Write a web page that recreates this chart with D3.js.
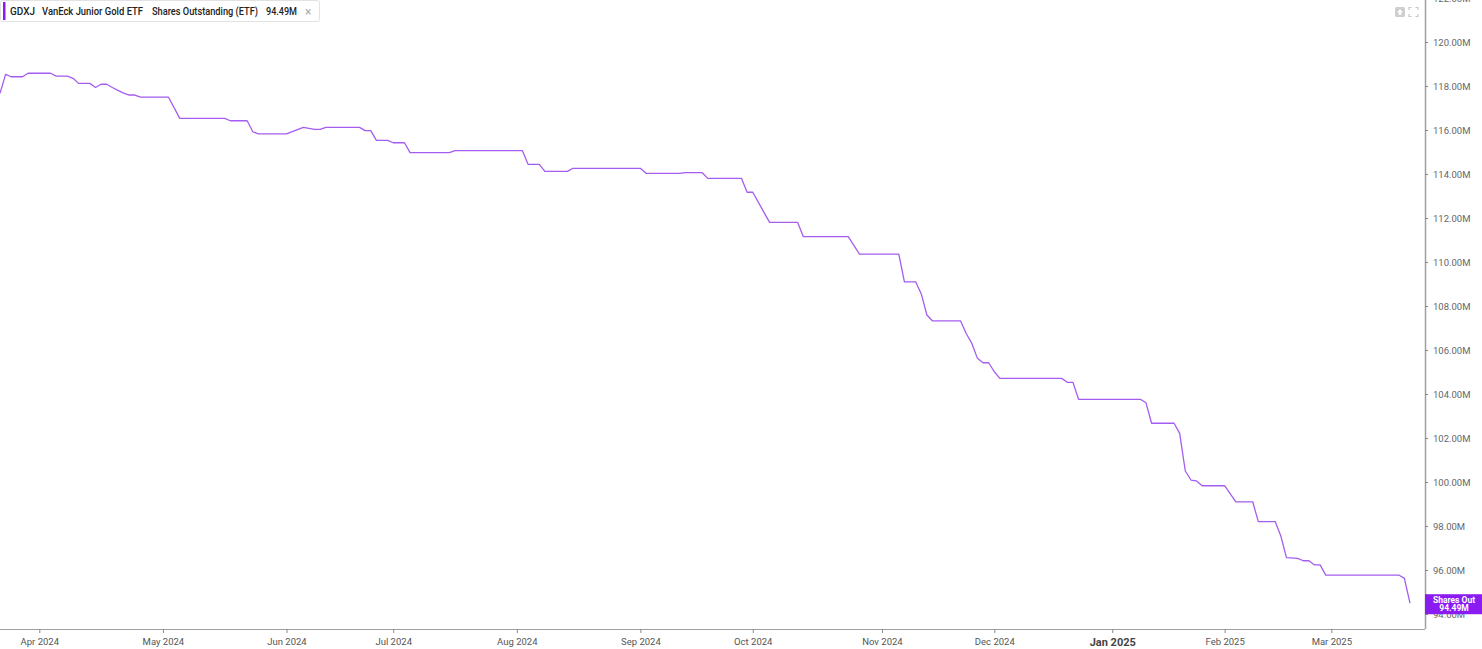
<!DOCTYPE html>
<html><head><meta charset="utf-8">
<script src="https://cdn.jsdelivr.net/npm/d3@7"></script>
<style>html,body{margin:0;padding:0;background:#fff;overflow:hidden}</style>
</head><body><svg id="c" width="1482" height="649"></svg>
<script>
// ---- data ----
const holidays = ["2024-03-29","2024-05-27","2024-06-19","2024-07-04","2024-09-02","2024-11-28","2024-12-25","2025-01-01","2025-01-09","2025-01-20","2025-02-17"];
const firstDay = "2024-03-20", lastDay = "2025-03-21";
const dates = ["2024-03-20","2024-03-21","2024-03-22","2024-03-26","2024-03-27","2024-04-03","2024-04-04","2024-04-08","2024-04-09","2024-04-10","2024-04-12","2024-04-15","2024-04-16","2024-04-17","2024-04-18","2024-04-19","2024-04-22","2024-04-23","2024-04-24","2024-04-25","2024-05-02","2024-05-06","2024-05-16","2024-05-17","2024-05-22","2024-05-23","2024-05-24","2024-06-03","2024-06-06","2024-06-10","2024-06-11","2024-06-12","2024-06-21","2024-06-24","2024-06-25","2024-06-26","2024-06-28","2024-07-01","2024-07-03","2024-07-05","2024-07-16","2024-07-17","2024-08-02","2024-08-05","2024-08-07","2024-08-08","2024-08-14","2024-08-15","2024-09-03","2024-09-04","2024-09-12","2024-09-13","2024-09-18","2024-09-19","2024-09-27","2024-09-30","2024-10-01","2024-10-04","2024-10-11","2024-10-14","2024-10-24","2024-10-28","2024-11-06","2024-11-07","2024-11-11","2024-11-12","2024-11-13","2024-11-14","2024-11-21","2024-11-22","2024-11-25","2024-11-26","2024-11-27","2024-11-29","2024-12-02","2024-12-03","2024-12-18","2024-12-19","2024-12-20","2024-12-23","2025-01-10","2025-01-13","2025-01-14","2025-01-21","2025-01-22","2025-01-23","2025-01-24","2025-01-27","2025-01-28","2025-02-03","2025-02-05","2025-02-10","2025-02-11","2025-02-14","2025-02-18","2025-02-19","2025-02-21","2025-02-24","2025-02-25","2025-02-26","2025-02-27","2025-02-28","2025-03-19","2025-03-20","2025-03-21"];
const values = [117.67,118.53,118.42,118.42,118.58,118.58,118.45,118.45,118.35,118.12,118.12,117.93,118.08,118.08,117.93,117.80,117.68,117.59,117.59,117.49,117.49,116.53,116.53,116.42,116.42,115.92,115.82,115.82,116.12,116.03,116.03,116.12,116.12,115.97,115.97,115.53,115.53,115.42,115.42,114.97,114.97,115.06,115.06,114.44,114.44,114.12,114.12,114.26,114.26,114.03,114.03,114.06,114.06,113.80,113.80,113.17,113.17,111.80,111.80,111.15,111.15,110.36,110.36,109.10,109.10,108.55,107.59,107.32,107.32,106.75,106.30,105.62,105.42,105.42,105.01,104.71,104.71,104.53,104.53,103.76,103.76,103.60,102.67,102.67,102.21,100.50,100.09,100.05,99.83,99.83,99.10,99.10,98.20,98.20,97.55,96.56,96.53,96.42,96.42,96.23,96.23,95.77,95.77,95.62,94.49];
const yTicks = [94,96,98,100,102,104,106,108,110,112,114,116,118,120,122];
const monthTicks = ["2024-04","2024-05","2024-06","2024-07","2024-08","2024-09","2024-10","2024-11","2024-12","2025-01","2025-02","2025-03"];
const monthLabels = ["Apr 2024","May 2024","Jun 2024","Jul 2024","Aug 2024","Sep 2024","Oct 2024","Nov 2024","Dec 2024","Jan 2025","Feb 2025","Mar 2025"];
const legendParts = ["GDXJ","VanEck Junior Gold ETF","Shares Outstanding (ETF)","94.49M"];
const lastLabel = ["Shares Out","94.49M"];

// ---- trading calendar ----
const fmt = d3.utcFormat("%Y-%m-%d");
const hol = new Set(holidays);
const tradingDays = d3.utcDays(new Date(firstDay+"T00:00:00Z"), d3.utcDay.offset(new Date(lastDay+"T00:00:00Z"),1))
  .map(fmt).filter(s => { const wd = new Date(s+"T00:00:00Z").getUTCDay(); return wd!==0 && wd!==6 && !hol.has(s); });

const svg = d3.select("#c");
const axisX = 1425, axisY = 629;
const x = d3.scalePoint().domain(tradingDays).range([0, 1410]);
const y = d3.scaleLinear().domain([94,120]).range([614, 42]);

const axisFont = "Roboto, 'Liberation Sans', Arial, sans-serif";

// y axis
const yAxis = svg.append("g").attr("transform",`translate(${axisX},0)`)
  .call(d3.axisRight(y).tickValues(yTicks).tickSize(3).tickPadding(5).tickFormat(d => d3.format(".2f")(d)+"M"));
yAxis.select(".domain").attr("stroke","#a0a0a0").attr("stroke-width",1.5).attr("d",`M0.5,0V${axisY}`);
yAxis.selectAll(".tick line").attr("stroke","#888");
yAxis.selectAll(".tick text").attr("fill","#666").attr("font-size",9.5).attr("font-family",axisFont);

// x axis
const tickDates = monthTicks.map(m => tradingDays.find(d => d.startsWith(m)));
const xAxis = svg.append("g").attr("transform",`translate(0,${axisY})`)
  .call(d3.axisBottom(x).tickValues(tickDates).tickSize(4).tickPadding(5).tickFormat((d,i)=>monthLabels[i]));
xAxis.select(".domain").attr("stroke","#a0a0a0").attr("stroke-width",1.2).attr("d",`M0,0.5H${axisX}`);
xAxis.selectAll(".tick line").attr("stroke","#888");
xAxis.selectAll(".tick text").attr("fill","#555").attr("font-size",9.5).attr("font-family",axisFont)
  .each(function(d,i){ if(monthLabels[i].startsWith("Jan")) d3.select(this).attr("font-weight","bold").attr("font-size",11).attr("fill","#444"); });

// line
const pts = dates.map((d,i)=>({d, v: values[i]}));
svg.append("path").datum(pts)
  .attr("fill","none").attr("stroke","#a45df0").attr("stroke-width",1.3).attr("stroke-linejoin","round")
  .attr("d", d3.line().x(p=>x(p.d)).y(p=>y(p.v)));

// last value label
const lv = values[values.length-1];
const lg = svg.append("g");
lg.append("rect").attr("x",axisX).attr("y",y(lv)-9).attr("width",57).attr("height",20).attr("fill","#8a1cf2");
lg.append("text").attr("x",axisX+29).attr("y",y(lv)-0.5).attr("text-anchor","middle").attr("fill","#fff")
  .attr("font-size",8.5).attr("font-weight","bold").attr("font-family",axisFont).text(lastLabel[0]);
lg.append("text").attr("x",axisX+29).attr("y",y(lv)+8).attr("text-anchor","middle").attr("fill","#fff")
  .attr("font-size",8.5).attr("font-weight","bold").attr("font-family",axisFont).text(lastLabel[1]);

// legend
const leg = svg.append("g");
leg.append("rect").attr("x",0.5).attr("y",0.5).attr("width",319).attr("height",21).attr("rx",2).attr("fill","#fff").attr("stroke","#e2e2e2");
leg.append("rect").attr("x",3).attr("y",2).attr("width",2.5).attr("height",18).attr("fill","#8a1cf2");
const legFont = "Roboto, 'Liberation Sans', sans-serif";
const legX = [10,42,152,266];
const legW = [25,101,106,31];
legendParts.forEach((t,i)=>{
  const el = leg.append("text").attr("x",legX[i]).attr("y",15).attr("font-size",10).attr("font-family",legFont)
    .attr("font-weight",500).attr("fill","#222").text(t);
  if (el.node().getComputedTextLength() > legW[i]) el.attr("textLength",legW[i]).attr("lengthAdjust","spacingAndGlyphs");
});
leg.append("text").attr("x",305).attr("y",15.5).attr("font-size",12).attr("font-family",legFont).attr("fill","#aaa").text("×");

// icons top right
const ic = svg.append("g");
ic.append("rect").attr("x",1395).attr("y",7).attr("width",10).attr("height",10).attr("rx",1.5).attr("fill","#cfcfcf");
ic.append("path").attr("d","M1400,9 L1403,12.5 H1401.2 V15 H1398.8 V12.5 H1397 Z").attr("fill","#fff");
ic.append("path").attr("d","M1409,10 V7.5 H1411.5 M1415.5,7.5 H1418 V10 M1418,14 V16.5 H1415.5 M1411.5,16.5 H1409 V14")
  .attr("fill","none").attr("stroke","#c8c8c8").attr("stroke-width",1.2);
</script></body></html>
